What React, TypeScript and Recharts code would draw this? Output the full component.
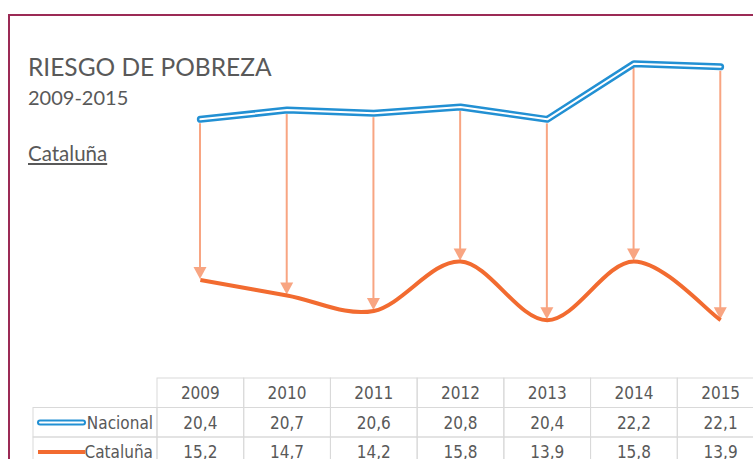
import { Bar, ComposedChart, Line, XAxis, YAxis } from "recharts";

const YEARS = ["2009", "2010", "2011", "2012", "2013", "2014", "2015"];
const NACIONAL = [20.4, 20.7, 20.6, 20.8, 20.4, 22.2, 22.1];
const CATALUNA = [15.2, 14.7, 14.2, 15.8, 13.9, 15.8, 13.9];
const SERIES_NAMES = ["Nacional", "Cataluña"];

const BLUE = "#2290d3";
const ORANGE = "#f26b30";
const ARROW = "#f8a582";
const GRID = "#d9d9d9";
const TEXT = "#595959";
const TABLE_FONT = "'Liberation Sans Narrow', 'DejaVu Sans Condensed', sans-serif";

const CHART_W = 780;
const CHART_H = 459;
const PLOT_LEFT = 157;
const PLOT_W = 607;
const COL_W = PLOT_W / YEARS.length;
const ROW_H = 29.5;
const LABEL_W = 124;

const data = YEARS.map((year, i) => ({
  year,
  nacional: NACIONAL[i],
  cataluna: CATALUNA[i],
  gap: [CATALUNA[i], NACIONAL[i]],
}));

const fmt = (v: number) => v.toFixed(1).replace(".", ",");

// Excel-style smoothing (Catmull-Rom through every point)
const excelSmooth = (context: any) => {
  let xs: number[] = [];
  let ys: number[] = [];
  return {
    areaStart() {},
    areaEnd() {},
    lineStart() {
      xs = [];
      ys = [];
    },
    point(x: number, y: number) {
      xs.push(+x);
      ys.push(+y);
    },
    lineEnd() {
      const n = xs.length;
      if (!n) return;
      context.moveTo(xs[0], ys[0]);
      for (let i = 0; i < n - 1; i++) {
        const a = Math.max(i - 1, 0);
        const d = Math.min(i + 2, n - 1);
        context.bezierCurveTo(
          xs[i] + (xs[i + 1] - xs[a]) / 6,
          ys[i] + (ys[i + 1] - ys[a]) / 6,
          xs[i + 1] - (xs[d] - xs[i]) / 6,
          ys[i + 1] - (ys[d] - ys[i]) / 6,
          xs[i + 1],
          ys[i + 1]
        );
      }
    },
  };
};

const ArrowShape = (props: any) => {
  const { x, y, width, height } = props;
  if (x == null || y == null) return null;
  const cx = x + width / 2;
  const tip = y + height - 1;
  return (
    <g>
      <line x1={cx} y1={y + 4} x2={cx} y2={tip - 10} stroke={ARROW} strokeWidth={2} />
      <polygon points={`${cx - 6.5},${tip - 12} ${cx + 6.5},${tip - 12} ${cx},${tip}`} fill={ARROW} />
    </g>
  );
};

const TableColumn = (props: any) => {
  const { x, y, payload } = props;
  const i = payload.index;
  const top = y + 30;
  const left = x - COL_W / 2;
  const cellText = (txt: string, row: number) => (
    <text
      x={x}
      y={top + row * ROW_H + 21}
      textAnchor="middle"
      fill={TEXT}
      fontSize={17}
      fontFamily={TABLE_FONT}
    >
      {txt}
    </text>
  );
  return (
    <g>
      {[0, 1, 2].map((r) => (
        <rect key={r} x={left} y={top + r * ROW_H} width={COL_W} height={ROW_H} fill="none" stroke={GRID} />
      ))}
      {cellText(YEARS[i], 0)}
      {cellText(fmt(NACIONAL[i]), 1)}
      {cellText(fmt(CATALUNA[i]), 2)}
      {i === 0 && (
        <g>
          {[1, 2].map((r) => (
            <rect key={r} x={left - LABEL_W} y={top + r * ROW_H} width={LABEL_W} height={ROW_H} fill="none" stroke={GRID} />
          ))}
          <line x1={left - 117} x2={left - 74} y1={top + ROW_H + 15} y2={top + ROW_H + 15} stroke={BLUE} strokeWidth={6} strokeLinecap="round" />
          <line x1={left - 117} x2={left - 74} y1={top + ROW_H + 15} y2={top + ROW_H + 15} stroke="#fff" strokeWidth={2} strokeLinecap="round" />
          <line x1={left - 119} x2={left - 72} y1={top + 2 * ROW_H + 15} y2={top + 2 * ROW_H + 15} stroke={ORANGE} strokeWidth={4} />
          {SERIES_NAMES.map((name, r) => (
            <text key={name} x={left - 4} y={top + (r + 1) * ROW_H + 21} textAnchor="end" fill={TEXT} fontSize={17} fontFamily={TABLE_FONT}>
              {name}
            </text>
          ))}
        </g>
      )}
    </g>
  );
};

export default function App() {
  return (
    <div style={{ position: "absolute", left: 0, top: 0, width: 753, height: 459, overflow: "hidden", background: "#fff" }}>
      <div
        style={{
          position: "absolute",
          left: 8,
          top: 14,
          width: 800,
          height: 500,
          borderLeft: "2px solid #9b2a55",
          borderTop: "2px solid #9b2a55",
        }}
      />
      <div style={{ position: "absolute", left: 28, top: 52, fontFamily: "Lato, sans-serif", color: TEXT, fontSize: 24.5, lineHeight: "30px" }}>
        RIESGO DE POBREZA
      </div>
      <div style={{ position: "absolute", left: 28, top: 85, fontFamily: "Lato, sans-serif", color: TEXT, fontSize: 20, lineHeight: "24px" }}>
        2009-2015
      </div>
      <div
        style={{
          position: "absolute",
          left: 28,
          top: 141,
          fontFamily: "Lato, sans-serif",
          color: TEXT,
          fontSize: 20.5,
          lineHeight: "24px",
          textDecoration: "underline",
        }}
      >
        Cataluña
      </div>
      <div style={{ position: "absolute", left: 0, top: 0 }}>
        <ComposedChart width={CHART_W} height={CHART_H} data={data} margin={{ top: 39, right: CHART_W - PLOT_LEFT - PLOT_W, bottom: 0, left: PLOT_LEFT }}>
          <XAxis dataKey="year" height={111} axisLine={false} tickLine={false} tickSize={0} tickMargin={0} interval={0} tick={<TableColumn />} />
          <YAxis hide domain={[13, 23]} />
          <Bar dataKey="gap" barSize={12} shape={<ArrowShape />} isAnimationActive={false} />
          <Line dataKey="cataluna" type={excelSmooth as any} stroke={ORANGE} strokeWidth={4} dot={false} activeDot={false} isAnimationActive={false} />
          <Line dataKey="nacional" type="linear" stroke={BLUE} strokeWidth={7} strokeLinecap="round" strokeLinejoin="round" dot={false} activeDot={false} isAnimationActive={false} />
          <Line dataKey="nacional" type="linear" stroke="#ffffff" strokeWidth={2} strokeLinecap="round" strokeLinejoin="round" dot={false} activeDot={false} isAnimationActive={false} />
        </ComposedChart>
      </div>
    </div>
  );
}
